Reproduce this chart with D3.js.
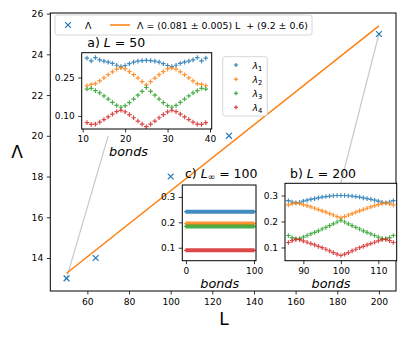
<!DOCTYPE html>
<html><head><meta charset="utf-8">
<script src="https://cdn.jsdelivr.net/npm/d3@7"></script>
<style>body{margin:0;background:#fff} text{font-family:"DejaVu Sans",sans-serif}</style>
</head><body><svg id="chart" width="407" height="339"></svg>
<script>
// ---- main data ----
const mainL = [50, 64, 100, 128, 200];
const mainLambda = [13, 14, 18, 20, 25];
const fitL = [50, 200];
const fitLambda = [13.25, 25.4];
const mainXTicks = [60, 80, 100, 120, 140, 160, 180, 200];
const mainYTicks = [14, 16, 18, 20, 22, 24, 26];
// connector lines (main data coords)
const linkA = [[50, 13], [70, 20]];
const linkB = [[200, 25], [180, 17]];

// ---- inset a) L = 50 ----
const bondsA = [11,12,13,14,15,16,17,18,19,20,21,22,23,24,25,26,27,28,29,30,31,32,33,34,35,36,37,38,39];
const a1 = [0.326,0.315,0.328,0.319,0.314,0.310,0.305,0.298,0.293,0.297,0.304,0.310,0.314,0.316,0.317,0.316,0.314,0.310,0.304,0.297,0.293,0.298,0.305,0.310,0.314,0.319,0.328,0.315,0.326];
const a2 = [0.218,0.223,0.226,0.237,0.249,0.261,0.272,0.283,0.288,0.284,0.273,0.261,0.248,0.234,0.221,0.234,0.248,0.261,0.273,0.284,0.288,0.283,0.272,0.261,0.249,0.237,0.226,0.223,0.218];
const a3 = [0.205,0.208,0.199,0.190,0.178,0.166,0.153,0.141,0.134,0.140,0.152,0.166,0.181,0.196,0.211,0.196,0.181,0.166,0.152,0.140,0.134,0.141,0.153,0.166,0.178,0.190,0.199,0.208,0.205];
const a4 = [0.074,0.067,0.068,0.076,0.086,0.096,0.107,0.117,0.122,0.116,0.105,0.093,0.080,0.068,0.058,0.068,0.080,0.093,0.105,0.116,0.122,0.117,0.107,0.096,0.086,0.076,0.068,0.067,0.074];
const aXTicks = [10, 20, 30, 40];
const aYTicks = [0.10, 0.25];

// ---- inset b) L = 200 ----
const bondsB = [86,87,88,89,90,91,92,93,94,95,96,97,98,99,100,101,102,103,104,105,106,107,108,109,110,111,112,113,114];
const b1 = [0.280,0.275,0.272,0.274,0.278,0.282,0.285,0.288,0.291,0.294,0.296,0.298,0.299,0.300,0.300,0.300,0.299,0.298,0.296,0.294,0.291,0.288,0.285,0.282,0.278,0.274,0.272,0.275,0.280];
const b2 = [0.264,0.268,0.271,0.269,0.265,0.261,0.256,0.251,0.246,0.241,0.236,0.230,0.225,0.219,0.214,0.219,0.225,0.230,0.236,0.241,0.246,0.251,0.256,0.261,0.265,0.269,0.271,0.268,0.264];
const b3 = [0.146,0.138,0.133,0.134,0.140,0.146,0.152,0.158,0.164,0.171,0.177,0.184,0.191,0.198,0.204,0.198,0.191,0.184,0.177,0.171,0.164,0.158,0.152,0.146,0.140,0.134,0.133,0.138,0.146];
const b4 = [0.119,0.126,0.131,0.130,0.125,0.120,0.115,0.110,0.104,0.099,0.093,0.087,0.080,0.074,0.069,0.074,0.080,0.087,0.093,0.099,0.104,0.110,0.115,0.120,0.125,0.130,0.131,0.126,0.119];
const bXTicks = [90, 100, 110];
const bcYTicks = [0.1, 0.2, 0.3];

// ---- inset c) L_inf = 100 ----
const bondsC = d3.range(0, 101);
const cValues = [0.242, 0.195, 0.184, 0.090];
const cXTicks = [0, 100];

const colors = ["#1f77b4", "#ff7f0e", "#2ca02c", "#d62728"];
const legendLabels = ["1", "2", "3", "4"];

const svg = d3.select("#chart");
svg.append("rect").attr("width", 407).attr("height", 339).attr("fill", "#fff");

// ---- main axes ----
const M = {x0: 50.3, x1: 396, y0: 13, y1: 291};
const x = d3.scaleLinear().domain([42.2, 208.2]).range([M.x0, M.x1]);
const y = d3.scaleLinear().domain([12.38, 26.03]).range([M.y1, M.y0]);

function styleAxis(g, fs) {
  g.select(".domain").remove();
  g.selectAll(".tick line").attr("stroke", "#000").attr("stroke-width", 0.8);
  g.selectAll(".tick text").attr("fill", "#000").style("font-size", fs + "px").style("font-family", "DejaVu Sans");
}

svg.append("g").attr("transform", `translate(0,${M.y1})`)
  .call(d3.axisBottom(x).tickValues(mainXTicks).tickSize(3.5).tickPadding(3.5))
  .call(g => styleAxis(g, 9.2));
svg.append("g").attr("transform", `translate(${M.x0},0)`)
  .call(d3.axisLeft(y).tickValues(mainYTicks).tickSize(3.5).tickPadding(3.5))
  .call(g => styleAxis(g, 9.2));

// connectors
const lineGen = d3.line().x(d => x(d[0])).y(d => y(d[1]));
[linkA, linkB].forEach(l => {
  svg.append("path").attr("d", lineGen(l)).attr("stroke", "#c8c8c8").attr("stroke-width", 1.2).attr("fill", "none");
});
// fit line
svg.append("path").attr("d", lineGen(fitL.map((v, i) => [v, fitLambda[i]])))
  .attr("stroke", "#ff7f0e").attr("stroke-width", 1.5).attr("fill", "none");
// x markers
function cross(cx, cy, s) { return `M${cx-s},${cy-s}L${cx+s},${cy+s}M${cx-s},${cy+s}L${cx+s},${cy-s}`; }
function plus(cx, cy, s) { return `M${cx-s},${cy}L${cx+s},${cy}M${cx},${cy-s}L${cx},${cy+s}`; }
svg.append("path").attr("d", mainL.map((v, i) => cross(x(v), y(mainLambda[i]), 2.9)).join(""))
  .attr("stroke", "#1f77b4").attr("stroke-width", 1.2).attr("fill", "none");

svg.append("rect").attr("x", M.x0).attr("y", M.y0).attr("width", M.x1 - M.x0).attr("height", M.y1 - M.y0)
  .attr("fill", "none").attr("stroke", "#000").attr("stroke-width", 1);

// axis labels
svg.append("text").attr("x", 224).attr("y", 325).attr("text-anchor", "middle").style("font-size", "17px").text("L");
svg.append("text").attr("x", 17).attr("y", 158).attr("text-anchor", "middle").style("font-size", "17px").text("Λ");

// main legend
svg.append("rect").attr("x", 55).attr("y", 15).attr("width", 257).attr("height", 20).attr("rx", 2.5)
  .attr("fill", "#fff").attr("fill-opacity", 0.8).attr("stroke", "#cccccc").attr("stroke-width", 0.8);
svg.append("path").attr("d", cross(68, 25, 2.9)).attr("stroke", "#1f77b4").attr("stroke-width", 1.2).attr("fill", "none");
svg.append("text").attr("x", 85).attr("y", 28.5).style("font-size", "9.4px").text("Λ");
svg.append("line").attr("x1", 110).attr("x2", 130).attr("y1", 25).attr("y2", 25).attr("stroke", "#ff7f0e").attr("stroke-width", 1.5);
svg.append("text").attr("x", 137).attr("y", 28.5).style("font-size", "9.4px").attr("xml:space", "preserve")
  .text("Λ = (0.081 ± 0.005) L  + (9.2 ± 0.6)");

// ---- insets ----
const insetYDomain = [0.049, 0.347];
function inset(cfg) {
  const g = svg.append("g");
  const ix = d3.scaleLinear().domain(cfg.xd).range([cfg.x0, cfg.x1]);
  const iy = d3.scaleLinear().domain(insetYDomain).range([cfg.y1, cfg.y0]);
  g.append("rect").attr("x", cfg.x0).attr("y", cfg.y0).attr("width", cfg.x1 - cfg.x0).attr("height", cfg.y1 - cfg.y0).attr("fill", "#fff");
  cfg.series.forEach((vals, i) => {
    g.append("path").attr("d", cfg.bonds.map((b, j) => plus(ix(b), iy(vals[j]), cfg.r)).join(""))
      .attr("stroke", colors[i]).attr("stroke-width", cfg.sw).attr("fill", "none").attr("stroke-opacity", 0.85);
  });
  g.append("rect").attr("x", cfg.x0).attr("y", cfg.y0).attr("width", cfg.x1 - cfg.x0).attr("height", cfg.y1 - cfg.y0)
    .attr("fill", "none").attr("stroke", "#000").attr("stroke-width", 1);
  g.append("g").attr("transform", `translate(0,${cfg.y1})`)
    .call(d3.axisBottom(ix).tickValues(cfg.xt).tickFormat(d3.format("d")).tickSize(3.5).tickPadding(3.5))
    .call(a => styleAxis(a, 9));
  g.append("g").attr("transform", `translate(${cfg.x0},0)`)
    .call(d3.axisLeft(iy).tickValues(cfg.yt).tickFormat(d3.format(cfg.yf)).tickSize(3.5).tickPadding(3.5))
    .call(a => styleAxis(a, 9));
  g.append("text").attr("x", cfg.bx).attr("y", cfg.by).attr("text-anchor", "middle")
    .style("font-size", "12.8px").style("font-style", "italic").text("bonds");
  return g;
}

inset({x0: 81.7, x1: 211.7, y0: 52.7, y1: 129, xd: [9.76, 40.4], bonds: bondsA, series: [a1, a2, a3, a4],
  xt: aXTicks, yt: aYTicks, yf: ".2f", r: 2.3, sw: 1.2, bx: 128.5, by: 156});
inset({x0: 182.3, x1: 256, y0: 185, y1: 260.7, xd: [-5.4, 102.9], bonds: bondsC,
  series: cValues.map(v => bondsC.map(() => v)), xt: cXTicks, yt: bcYTicks, yf: ".1f", r: 2.0, sw: 1.2, bx: 219.7, by: 288});
inset({x0: 285, x1: 396.7, y0: 183.3, y1: 260.7, xd: [85.1, 114.9], bonds: bondsB, series: [b1, b2, b3, b4],
  xt: bXTicks, yt: bcYTicks, yf: ".1f", r: 2.3, sw: 1.2, bx: 331, by: 288});

// titles
function title(xp, yp, pre, sub, post) {
  const t = svg.append("text").attr("x", xp).attr("y", yp).style("font-size", "12.5px").attr("xml:space", "preserve");
  t.append("tspan").text(pre);
  t.append("tspan").style("font-style", "italic").text("L");
  if (sub) t.append("tspan").attr("dy", 2.5).style("font-size", "9px").text(sub);
  const p = t.append("tspan").text(post);
  if (sub) p.attr("dy", -2.5);
}
title(87.3, 46.7, "a) ", null, " = 50");
title(185, 177.7, "c) ", "∞", " = 100");
title(290, 178.3, "b) ", null, " = 200");

// lambda legend
svg.append("rect").attr("x", 222.7).attr("y", 56.7).attr("width", 44.6).attr("height", 59.3).attr("rx", 2.5)
  .attr("fill", "#fff").attr("fill-opacity", 0.8).attr("stroke", "#cccccc").attr("stroke-width", 0.8);
const legY = [65, 79.3, 93.3, 107.3];
legendLabels.forEach((lab, i) => {
  svg.append("path").attr("d", plus(236, legY[i], 2)).attr("stroke", colors[i]).attr("stroke-width", 1.1).attr("fill", "none");
  const t = svg.append("text").attr("x", 252.5).attr("y", legY[i] + 3.5).style("font-size", "9.4px");
  t.append("tspan").style("font-style", "italic").text("λ");
  t.append("tspan").attr("dy", 2).style("font-size", "6.8px").text(lab);
});
</script></body></html>
